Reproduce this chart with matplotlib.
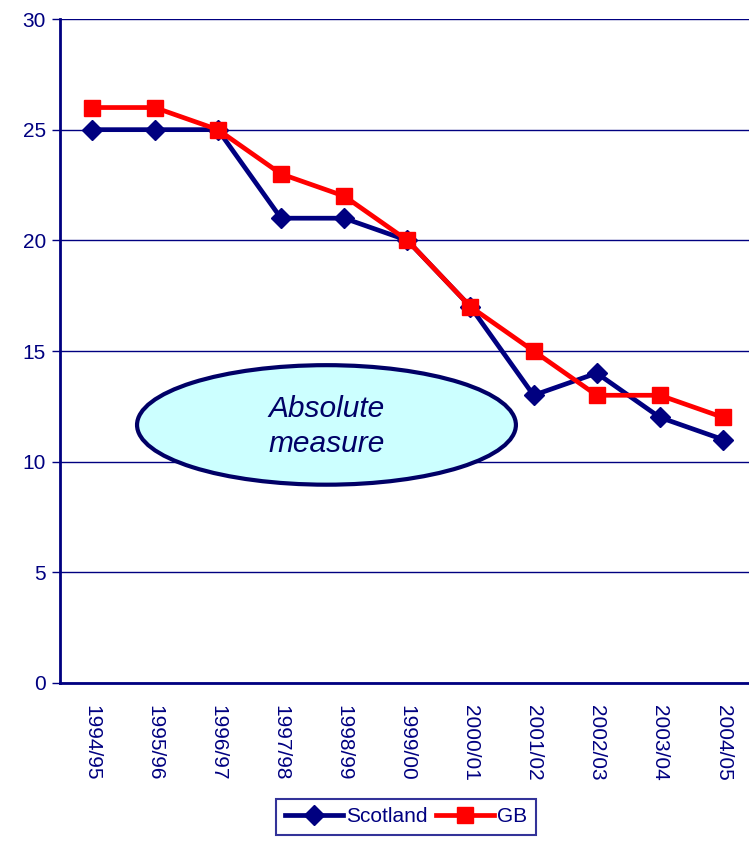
import matplotlib.pyplot as plt
from matplotlib.patches import Ellipse

plt.rcParams['font.family'] = ['Liberation Sans', 'DejaVu Sans']

# Data
years = ['1994/95', '1995/96', '1996/97', '1997/98', '1998/99', '1999/00',
         '2000/01', '2001/02', '2002/03', '2003/04', '2004/05']
scotland = [25, 25, 25, 21, 21, 20, 17, 13, 14, 12, 11]
gb = [26, 26, 25, 23, 22, 20, 17, 15, 13, 13, 12]

navy = '#000080'
red = '#ff0000'

fig = plt.figure(figsize=(7.49, 8.42), dpi=100)
ax = fig.add_axes([60 / 749, 159 / 842, 694.6 / 749, 664 / 842])

x = range(len(years))
ax.plot(x, scotland, color=navy, lw=3.4, marker='D', ms=10, label='Scotland', zorder=3)
ax.plot(x, gb, color=red, lw=3.4, marker='s', ms=11, label='GB', zorder=4)

ax.set_xlim(-0.5, len(years) - 0.5)
ax.set_ylim(0, 30)
ax.set_yticks(range(0, 31, 5))
ax.set_xticks(list(x))
ax.set_xticklabels(years, rotation=270, va='top', ha='center')
ax.tick_params(axis='y', colors=navy, labelsize=15, length=6, width=1, pad=4)
ax.tick_params(axis='x', colors=navy, labelsize=15, length=0, pad=16)
ax.grid(axis='y', color=navy, lw=1)
ax.set_axisbelow(True)
for s in ['top', 'right']:
    ax.spines[s].set_visible(False)
for s in ['left', 'bottom']:
    ax.spines[s].set_color(navy)
    ax.spines[s].set_linewidth(2)

# Annotation ellipse
ell = Ellipse((3.72, 11.66), 6.0, 5.4, facecolor='#ccffff', edgecolor='#000066', lw=3, zorder=5)
ax.add_patch(ell)
ax.text(3.72, 11.6, 'Absolute\nmeasure', ha='center', va='center', style='italic',
        fontsize=21.5, color='#000066', zorder=6, linespacing=1.3)

leg = fig.legend(loc='upper center', bbox_to_anchor=(406 / 749, 1 - 799 / 842), ncol=2,
                 frameon=True, fancybox=False, fontsize=15, handlelength=2.8,
                 columnspacing=0.4, handletextpad=0.15, borderaxespad=0, borderpad=0.4)
leg.get_frame().set_edgecolor(navy)
leg.get_frame().set_linewidth(1.5)
for t in leg.get_texts():
    t.set_color(navy)

fig.savefig('out.png', dpi=100)
